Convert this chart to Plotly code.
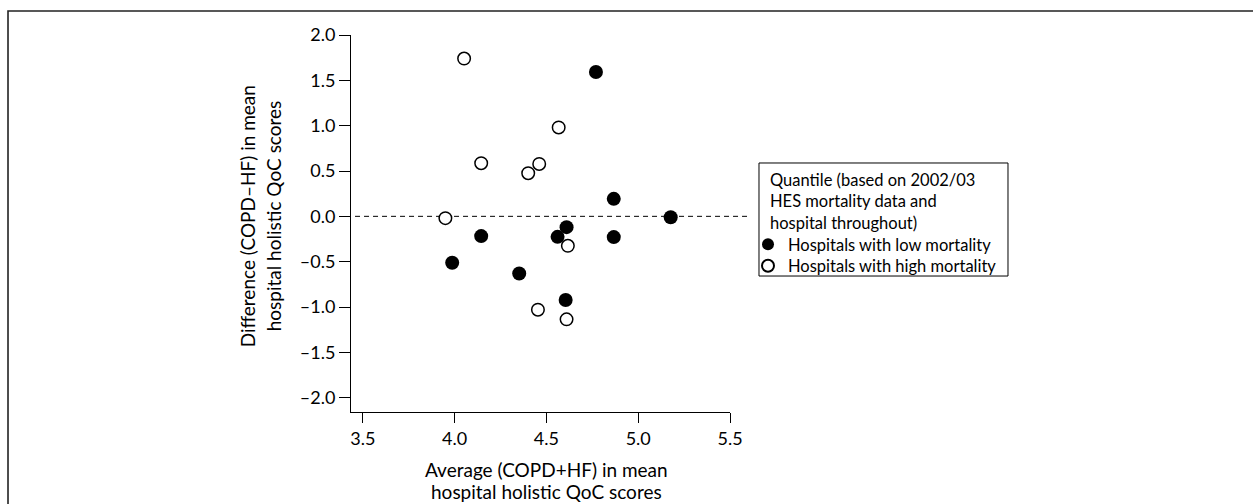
import plotly.graph_objects as go

# ---- data ----
low_x = [4.770, 4.867, 5.177, 4.610, 4.561, 4.145, 4.867, 3.987, 4.352, 4.605]
low_y = [1.592, 0.193, -0.010, -0.119, -0.226, -0.218, -0.229, -0.512, -0.630, -0.923]

high_x = [4.052, 4.567, 4.145, 4.461, 4.401, 3.950, 4.617, 4.454, 4.610]
high_y = [1.740, 0.980, 0.586, 0.578, 0.476, -0.020, -0.325, -1.030, -1.136]

x_ticks = [3.5, 4.0, 4.5, 5.0, 5.5]
x_ticktext = ["3.5", "4.0", "4.5", "5.0", "5.5"]
y_ticks = [-2.0, -1.5, -1.0, -0.5, 0.0, 0.5, 1.0, 1.5, 2.0]
y_ticktext = ["\u20132.0", "\u20131.5", "\u20131.0", "\u20130.5", "0.0", "0.5", "1.0", "1.5", "2.0"]

low_name = "Hospitals with low mortality"
high_name = "Hospitals with high mortality"
legend_title_lines = ["Quantile (based on 2002/03", "HES mortality data and", "hospital throughout)"]
x_title = ["Average (COPD+HF) in mean", "hospital holistic QoC scores"]
y_title = ["Difference (COPD\u2013HF) in mean", "hospital holistic QoC scores"]

FONT = "Lato"
TICK_SIZE = 18
TITLE_SIZE = 19
LEG_SIZE = 16.5

fig = go.Figure()
fig.add_trace(go.Scatter(
    x=low_x, y=low_y, mode="markers", name=low_name, legend="legend",
    marker=dict(size=14, color="black", line=dict(width=0)),
    cliponaxis=False,
))
fig.add_trace(go.Scatter(
    x=high_x, y=high_y, mode="markers", name=high_name, legend="legend2",
    marker=dict(size=12.5, color="white", line=dict(width=1.5, color="black")),
    cliponaxis=False,
))

# dashed reference line at zero difference
fig.add_shape(type="line", xref="paper", yref="y", x0=0.0106, x1=1.045, y0=0, y1=0,
              line=dict(color="black", width=1, dash="5px,4px"), layer="below")

# outer frame (runs off the right and bottom of the page)
fig.add_shape(type="rect", xref="paper", yref="paper", x0=-0.905, x1=10.0, y0=-10.0, y1=1.0637,
              line=dict(color="#222222", width=1.6), fillcolor="rgba(0,0,0,0)", layer="below")

# legend frame
fig.add_shape(type="rect", xref="paper", yref="paper", x0=1.0765, x1=1.7335, y0=0.3607, y1=0.6605,
              line=dict(color="black", width=1), fillcolor="white", layer="below")

# legend title (three lines)
fig.add_annotation(text="<br>".join(legend_title_lines), xref="paper", yref="paper",
                   x=1.1003, y=0.5584, xanchor="left", yanchor="middle", align="left",
                   showarrow=False, font=dict(family=FONT, size=LEG_SIZE, color="black"))

# axis titles
for txt, ys in zip(x_title, [-57, -79]):
    fig.add_annotation(text=txt, xref="x", yref="paper", x=4.5, y=0, yshift=ys,
                       xanchor="center", yanchor="middle", showarrow=False,
                       font=dict(family=FONT, size=TITLE_SIZE, color="black"))
for txt, xs in zip(y_title, [-104, -78]):
    fig.add_annotation(text=txt, xref="paper", yref="y", x=0, y=0, xshift=xs,
                       xanchor="center", yanchor="middle", showarrow=False, textangle=-90,
                       font=dict(family=FONT, size=TITLE_SIZE, color="black"))

leg_common = dict(xanchor="left", yanchor="middle", borderwidth=0, bgcolor="rgba(0,0,0,0)",
                  font=dict(family=FONT, size=LEG_SIZE, color="black"), itemsizing="constant")

fig.update_layout(
    width=1253, height=504,
    margin=dict(l=351, r=523, t=35, b=92),
    paper_bgcolor="white", plot_bgcolor="white",
    font=dict(family=FONT, size=TICK_SIZE, color="black"),
    showlegend=True,
    legend=dict(x=1.0475, y=0.4443, **leg_common),
    legend2=dict(x=1.0475, y=0.3873, **leg_common),
    xaxis=dict(
        range=[3.436, 5.5], tickvals=x_ticks, ticktext=x_ticktext,
        showgrid=False, zeroline=False, showline=True, linecolor="black", linewidth=1,
        ticks="outside", ticklen=10, tickcolor="black", tickwidth=1,
        tickfont=dict(family=FONT, size=TICK_SIZE, color="black"),
    ),
    yaxis=dict(
        range=[-2.158, 2.0], tickvals=y_ticks, ticktext=y_ticktext,
        showgrid=False, zeroline=False, showline=True, linecolor="black", linewidth=1,
        ticks="outside", ticklen=11, tickcolor="black", tickwidth=1,
        tickfont=dict(family=FONT, size=TICK_SIZE, color="black"),
    ),
)

fig.write_html("out.html")
